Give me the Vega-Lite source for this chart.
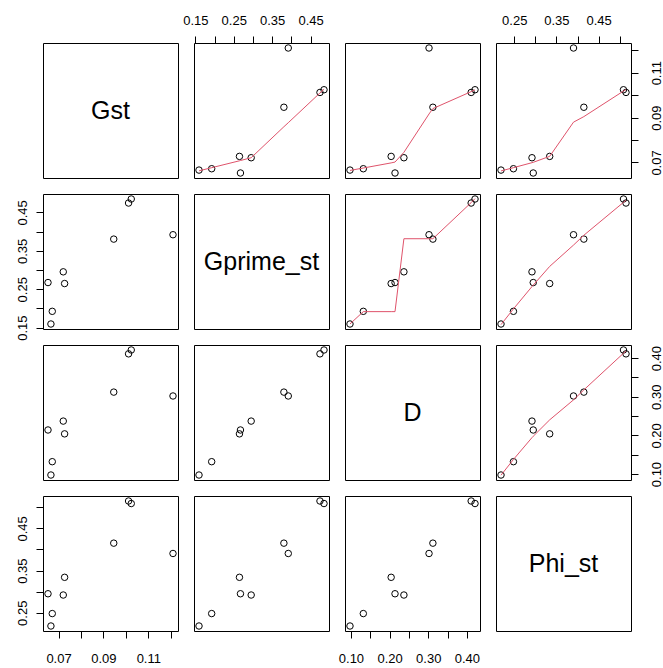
{
  "$schema": "https://vega.github.io/schema/vega-lite/v6.json",
  "background": "white",
  "padding": {"left": 15, "top": 13, "right": 0, "bottom": 0},
  "datasets": {
    "pts": [
      {"Gst": 0.0653, "Gprime_st": 0.2675, "D": 0.214, "Phi_st": 0.295},
      {"Gst": 0.0672, "Gprime_st": 0.1926, "D": 0.132, "Phi_st": 0.248},
      {"Gst": 0.0666, "Gprime_st": 0.1596, "D": 0.0975, "Phi_st": 0.2185},
      {"Gst": 0.0721, "Gprime_st": 0.2954, "D": 0.237, "Phi_st": 0.292},
      {"Gst": 0.0727, "Gprime_st": 0.2649, "D": 0.204, "Phi_st": 0.334},
      {"Gst": 0.0946, "Gprime_st": 0.3806, "D": 0.312, "Phi_st": 0.415},
      {"Gst": 0.1012, "Gprime_st": 0.4745, "D": 0.411, "Phi_st": 0.515},
      {"Gst": 0.1024, "Gprime_st": 0.485, "D": 0.421, "Phi_st": 0.509},
      {"Gst": 0.121, "Gprime_st": 0.392, "D": 0.302, "Phi_st": 0.3905}
    ],
    "fit_D_Gprime": [
      {"D": 0.0975, "Gprime_st": 0.1597},
      {"D": 0.132, "Gprime_st": 0.1918},
      {"D": 0.204, "Gprime_st": 0.1918},
      {"D": 0.214, "Gprime_st": 0.1918},
      {"D": 0.237, "Gprime_st": 0.3816},
      {"D": 0.302, "Gprime_st": 0.3816},
      {"D": 0.312, "Gprime_st": 0.3816},
      {"D": 0.411, "Gprime_st": 0.4755},
      {"D": 0.421, "Gprime_st": 0.486}
    ],
    "labels": [
      {"name": "Gst"}, {"name": "Gprime_st"}, {"name": "D"}, {"name": "Phi_st"}
    ]
  },
  "data": {"name": "pts"},
  "columns": 4,
  "spacing": 16,
  "bounds": "flush",
  "concat": [
    {"width": 135, "height": 135, "data": {"name": "labels"}, "transform": [{"filter": "datum.name == 'Gst'"}],
     "mark": {"type": "text", "fontSize": 25, "font": "Liberation Sans", "baseline": "middle", "align": "center", "color": "black"},
     "encoding": {"text": {"field": "name"},
       "x": {"datum": 0.5, "type": "quantitative", "scale": {"domain": [0, 1], "nice": false}, "axis": null},
       "y": {"datum": 0.5, "type": "quantitative", "scale": {"domain": [0, 1], "nice": false}, "axis": null}}},
    {"width": 135, "height": 135,
     "encoding": {
       "x": {"field": "Gprime_st", "type": "quantitative", "title": null, "scale": {"domain": [0.14658, 0.49802], "nice": false, "zero": false},
             "axis": {"orient": "top", "labelPadding": 9, "values": [0.15, 0.2, 0.25, 0.3, 0.35, 0.4, 0.45], "format": ".2f", "labelExpr": "round(datum.value*100) % 10 == 5 ? datum.label : ''"}},
       "y": {"field": "Gst", "type": "quantitative", "title": null, "scale": {"domain": [0.06307, 0.12323], "nice": false, "zero": false}, "axis": null}},
     "layer": [
       {"mark": {"type": "point", "shape": "circle", "filled": false, "color": "black", "strokeWidth": 1, "size": 42, "opacity": 1}},
       {"transform": [{"loess": "Gst", "on": "Gprime_st", "bandwidth": 0.6667}], "mark": {"type": "line", "color": "#DF536B", "strokeWidth": 1}}
     ]},
    {"width": 135, "height": 135,
     "encoding": {
       "x": {"field": "D", "type": "quantitative", "title": null, "scale": {"domain": [0.0846, 0.4339], "nice": false, "zero": false}, "axis": null},
       "y": {"field": "Gst", "type": "quantitative", "title": null, "scale": {"domain": [0.06307, 0.12323], "nice": false, "zero": false}, "axis": null}},
     "layer": [
       {"mark": {"type": "point", "shape": "circle", "filled": false, "color": "black", "strokeWidth": 1, "size": 42, "opacity": 1}},
       {"transform": [{"loess": "Gst", "on": "D", "bandwidth": 0.6667}], "mark": {"type": "line", "color": "#DF536B", "strokeWidth": 1}}
     ]},
    {"width": 135, "height": 135,
     "encoding": {
       "x": {"field": "Phi_st", "type": "quantitative", "title": null, "scale": {"domain": [0.20664, 0.52686], "nice": false, "zero": false},
             "axis": {"orient": "top", "labelPadding": 9, "values": [0.25, 0.3, 0.35, 0.4, 0.45, 0.5], "format": ".2f", "labelExpr": "round(datum.value*100) % 10 == 5 ? datum.label : ''"}},
       "y": {"field": "Gst", "type": "quantitative", "title": null, "scale": {"domain": [0.06307, 0.12323], "nice": false, "zero": false},
             "axis": {"orient": "right", "labelPadding": 12, "values": [0.07, 0.08, 0.09, 0.1, 0.11, 0.12], "format": ".2f", "labelAngle": -90, "labelAlign": "center", "labelBaseline": "top", "labelExpr": "round(datum.value*100) % 2 == 1 ? datum.label : ''"}}},
     "layer": [
       {"mark": {"type": "point", "shape": "circle", "filled": false, "color": "black", "strokeWidth": 1, "size": 42, "opacity": 1}},
       {"transform": [{"loess": "Gst", "on": "Phi_st", "bandwidth": 0.6667}], "mark": {"type": "line", "color": "#DF536B", "strokeWidth": 1}}
     ]},

    {"width": 135, "height": 135,
     "mark": {"type": "point", "shape": "circle", "filled": false, "color": "black", "strokeWidth": 1, "size": 42, "opacity": 1},
     "encoding": {
       "x": {"field": "Gst", "type": "quantitative", "title": null, "scale": {"domain": [0.06307, 0.12323], "nice": false, "zero": false}, "axis": null},
       "y": {"field": "Gprime_st", "type": "quantitative", "title": null, "scale": {"domain": [0.14658, 0.49802], "nice": false, "zero": false},
             "axis": {"orient": "left", "labelPadding": 7, "values": [0.15, 0.2, 0.25, 0.3, 0.35, 0.4, 0.45], "format": ".2f", "labelAngle": -90, "labelAlign": "center", "labelBaseline": "bottom", "labelExpr": "round(datum.value*100) % 10 == 5 ? datum.label : ''"}}}},
    {"width": 135, "height": 135, "data": {"name": "labels"}, "transform": [{"filter": "datum.name == 'Gprime_st'"}],
     "mark": {"type": "text", "fontSize": 25, "font": "Liberation Sans", "baseline": "middle", "align": "center", "color": "black"},
     "encoding": {"text": {"field": "name"},
       "x": {"datum": 0.5, "type": "quantitative", "scale": {"domain": [0, 1], "nice": false}, "axis": null},
       "y": {"datum": 0.5, "type": "quantitative", "scale": {"domain": [0, 1], "nice": false}, "axis": null}}},
    {"width": 135, "height": 135,
     "encoding": {
       "x": {"field": "D", "type": "quantitative", "title": null, "scale": {"domain": [0.0846, 0.4339], "nice": false, "zero": false}, "axis": null},
       "y": {"field": "Gprime_st", "type": "quantitative", "title": null, "scale": {"domain": [0.14658, 0.49802], "nice": false, "zero": false}, "axis": null}},
     "layer": [
       {"mark": {"type": "point", "shape": "circle", "filled": false, "color": "black", "strokeWidth": 1, "size": 42, "opacity": 1}},
       {"data": {"name": "fit_D_Gprime"}, "mark": {"type": "line", "color": "#DF536B", "strokeWidth": 1}}
     ]},
    {"width": 135, "height": 135,
     "encoding": {
       "x": {"field": "Phi_st", "type": "quantitative", "title": null, "scale": {"domain": [0.20664, 0.52686], "nice": false, "zero": false}, "axis": null},
       "y": {"field": "Gprime_st", "type": "quantitative", "title": null, "scale": {"domain": [0.14658, 0.49802], "nice": false, "zero": false}, "axis": null}},
     "layer": [
       {"mark": {"type": "point", "shape": "circle", "filled": false, "color": "black", "strokeWidth": 1, "size": 42, "opacity": 1}},
       {"transform": [{"loess": "Gprime_st", "on": "Phi_st", "bandwidth": 0.6667}], "mark": {"type": "line", "color": "#DF536B", "strokeWidth": 1}}
     ]},

    {"width": 135, "height": 135,
     "mark": {"type": "point", "shape": "circle", "filled": false, "color": "black", "strokeWidth": 1, "size": 42, "opacity": 1},
     "encoding": {
       "x": {"field": "Gst", "type": "quantitative", "title": null, "scale": {"domain": [0.06307, 0.12323], "nice": false, "zero": false}, "axis": null},
       "y": {"field": "D", "type": "quantitative", "title": null, "scale": {"domain": [0.0846, 0.4339], "nice": false, "zero": false}, "axis": null}}},
    {"width": 135, "height": 135,
     "mark": {"type": "point", "shape": "circle", "filled": false, "color": "black", "strokeWidth": 1, "size": 42, "opacity": 1},
     "encoding": {
       "x": {"field": "Gprime_st", "type": "quantitative", "title": null, "scale": {"domain": [0.14658, 0.49802], "nice": false, "zero": false}, "axis": null},
       "y": {"field": "D", "type": "quantitative", "title": null, "scale": {"domain": [0.0846, 0.4339], "nice": false, "zero": false}, "axis": null}}},
    {"width": 135, "height": 135, "data": {"name": "labels"}, "transform": [{"filter": "datum.name == 'D'"}],
     "mark": {"type": "text", "fontSize": 25, "font": "Liberation Sans", "baseline": "middle", "align": "center", "color": "black"},
     "encoding": {"text": {"field": "name"},
       "x": {"datum": 0.5, "type": "quantitative", "scale": {"domain": [0, 1], "nice": false}, "axis": null},
       "y": {"datum": 0.5, "type": "quantitative", "scale": {"domain": [0, 1], "nice": false}, "axis": null}}},
    {"width": 135, "height": 135,
     "encoding": {
       "x": {"field": "Phi_st", "type": "quantitative", "title": null, "scale": {"domain": [0.20664, 0.52686], "nice": false, "zero": false}, "axis": null},
       "y": {"field": "D", "type": "quantitative", "title": null, "scale": {"domain": [0.0846, 0.4339], "nice": false, "zero": false},
             "axis": {"orient": "right", "labelPadding": 12, "values": [0.1, 0.15, 0.2, 0.25, 0.3, 0.35, 0.4], "format": ".2f", "labelAngle": -90, "labelAlign": "center", "labelBaseline": "top", "labelExpr": "round(datum.value*100) % 10 == 0 ? datum.label : ''"}}},
     "layer": [
       {"mark": {"type": "point", "shape": "circle", "filled": false, "color": "black", "strokeWidth": 1, "size": 42, "opacity": 1}},
       {"transform": [{"loess": "D", "on": "Phi_st", "bandwidth": 0.6667}], "mark": {"type": "line", "color": "#DF536B", "strokeWidth": 1}}
     ]},

    {"width": 135, "height": 135,
     "mark": {"type": "point", "shape": "circle", "filled": false, "color": "black", "strokeWidth": 1, "size": 42, "opacity": 1},
     "encoding": {
       "x": {"field": "Gst", "type": "quantitative", "title": null, "scale": {"domain": [0.06307, 0.12323], "nice": false, "zero": false},
             "axis": {"orient": "bottom", "labelPadding": 14, "values": [0.07, 0.08, 0.09, 0.1, 0.11, 0.12], "format": ".2f", "labelExpr": "round(datum.value*100) % 2 == 1 ? datum.label : ''"}},
       "y": {"field": "Phi_st", "type": "quantitative", "title": null, "scale": {"domain": [0.20664, 0.52686], "nice": false, "zero": false},
             "axis": {"orient": "left", "labelPadding": 7, "values": [0.25, 0.3, 0.35, 0.4, 0.45, 0.5], "format": ".2f", "labelAngle": -90, "labelAlign": "center", "labelBaseline": "bottom", "labelExpr": "round(datum.value*100) % 10 == 5 ? datum.label : ''"}}}},
    {"width": 135, "height": 135,
     "mark": {"type": "point", "shape": "circle", "filled": false, "color": "black", "strokeWidth": 1, "size": 42, "opacity": 1},
     "encoding": {
       "x": {"field": "Gprime_st", "type": "quantitative", "title": null, "scale": {"domain": [0.14658, 0.49802], "nice": false, "zero": false}, "axis": null},
       "y": {"field": "Phi_st", "type": "quantitative", "title": null, "scale": {"domain": [0.20664, 0.52686], "nice": false, "zero": false}, "axis": null}}},
    {"width": 135, "height": 135,
     "mark": {"type": "point", "shape": "circle", "filled": false, "color": "black", "strokeWidth": 1, "size": 42, "opacity": 1},
     "encoding": {
       "x": {"field": "D", "type": "quantitative", "title": null, "scale": {"domain": [0.0846, 0.4339], "nice": false, "zero": false},
             "axis": {"orient": "bottom", "labelPadding": 14, "values": [0.1, 0.15, 0.2, 0.25, 0.3, 0.35, 0.4], "format": ".2f", "labelExpr": "round(datum.value*100) % 10 == 0 ? datum.label : ''"}},
       "y": {"field": "Phi_st", "type": "quantitative", "title": null, "scale": {"domain": [0.20664, 0.52686], "nice": false, "zero": false}, "axis": null}}},
    {"width": 135, "height": 135, "data": {"name": "labels"}, "transform": [{"filter": "datum.name == 'Phi_st'"}],
     "mark": {"type": "text", "fontSize": 25, "font": "Liberation Sans", "baseline": "middle", "align": "center", "color": "black"},
     "encoding": {"text": {"field": "name"},
       "x": {"datum": 0.5, "type": "quantitative", "scale": {"domain": [0, 1], "nice": false}, "axis": null},
       "y": {"datum": 0.5, "type": "quantitative", "scale": {"domain": [0, 1], "nice": false}, "axis": null}}}
  ],
  "config": {
    "view": {"stroke": "black", "strokeWidth": 1},
    "axis": {"grid": false, "domain": false, "ticks": true, "tickColor": "black", "tickSize": 7, "tickWidth": 1,
             "labelColor": "black", "labelFont": "Liberation Sans", "labelFontSize": 13, "labelFlush": false,
             "labelOverlap": false, "labelPadding": 7}
  }
}
